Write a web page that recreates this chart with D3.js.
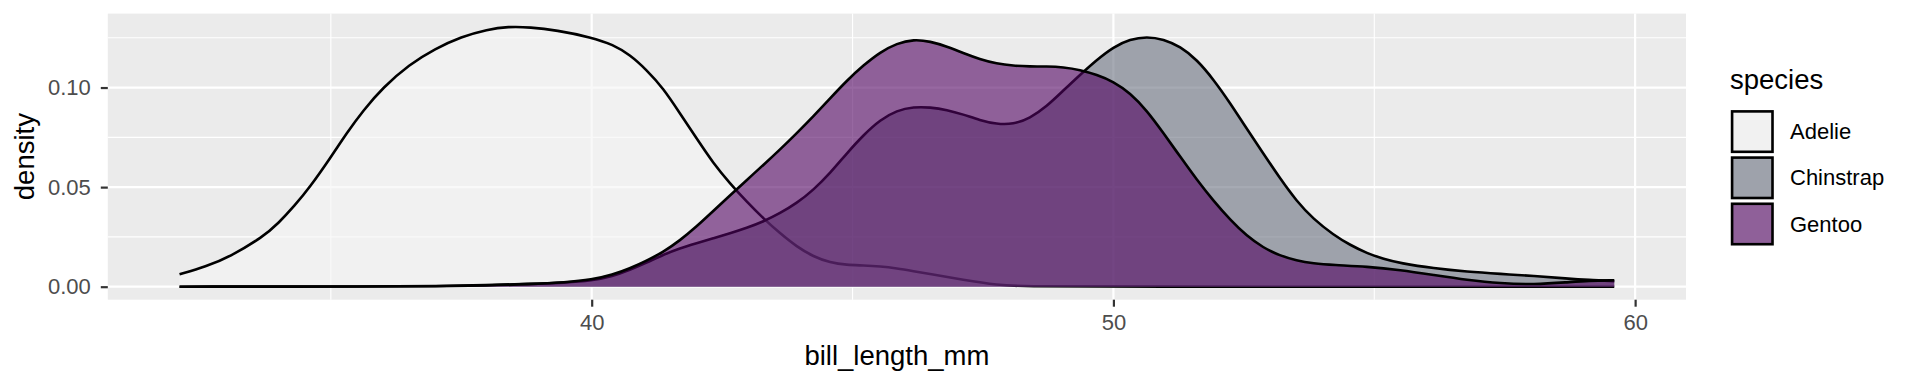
<!DOCTYPE html>
<html>
<head>
<meta charset="utf-8">
<script src="https://cdn.jsdelivr.net/npm/d3@7"></script>
<style>
  html, body { margin: 0; padding: 0; background: #fff; }
  svg { display: block; font-family: "Liberation Sans", Arial, sans-serif; }
</style>
</head>
<body>
<svg width="1920" height="384"></svg>
<script>
// species shown in the legend, in drawing order
const species = ["Adelie", "Chinstrap", "Gentoo"];

// density curves: [bill_length_mm, density]
const adelieDensity = [
  [32.1, .0062], [32.6, .0100], [33.07, .0151], [33.7, .0250], [34.0, .0320], [34.3, .0405],
  [34.6, .0500], [35.0, .0650], [35.3, .0770], [35.62, .0885], [36.0, .1000], [36.5, .1115],
  [37.0, .1195], [37.5, .1255], [38.0, .1292], [38.4, .1306], [38.82, .1303], [39.32, .1288],
  [40.0, .1252], [40.41, .1215], [40.73, .1165], [41.05, .1089], [41.37, .0997], [41.69, .0871],
  [42.01, .0745], [42.33, .0620], [42.65, .0519], [42.97, .0427], [43.29, .0343], [43.61, .0268],
  [43.93, .0201], [44.25, .0151], [44.57, .0121], [44.89, .0109], [45.21, .0107], [45.53, .0102],
  [45.85, .0092], [46.17, .0078], [46.49, .0064], [47.12, .0034], [47.76, .0008], [48.4, .0001],
  [49.5, 0], [59.6, 0]
];
const chinstrapDensity = [
  [32.1, 0], [36.0, .0001], [37.0, .0003], [38.0, .0008], [38.8, .0014], [39.5, .0020],
  [40.0, .0030], [40.4, .0052], [40.73, .0084], [41.05, .0120], [41.37, .0160], [41.69, .0193],
  [42.01, .0218], [42.33, .0243], [42.65, .0268], [42.97, .0295], [43.29, .0327], [43.61, .0369],
  [43.93, .0419], [44.25, .0486], [44.57, .0570], [44.89, .0670], [45.21, .0762], [45.53, .0838],
  [45.85, .0885], [46.17, .0903], [46.49, .0901], [46.81, .0888], [47.12, .0865], [47.44, .0836],
  [47.76, .0816], [48.08, .0815], [48.4, .0846], [48.72, .0905], [49.04, .0985], [49.36, .1064],
  [49.68, .1139], [50.0, .1204], [50.32, .1243], [50.64, .1256], [50.96, .1243], [51.28, .1206],
  [51.6, .1140], [51.92, .1040], [52.24, .0921], [52.55, .0795], [52.87, .0670], [53.19, .0545],
  [53.51, .0430], [53.83, .0340], [54.22, .0260], [54.54, .0209], [54.86, .0168], [55.18, .0139],
  [55.5, .0118], [56.14, .0092], [56.78, .0075], [57.42, .0064], [58.06, .0054], [58.7, .0041],
  [59.1, .0034], [59.6, .0028]
];
const gentooDensity = [
  [32.1, 0], [36.0, .0001], [37.0, .0002], [38.0, .0006], [38.8, .0012], [39.5, .0022],
  [40.0, .0035], [40.4, .0060], [40.73, .0092], [41.05, .0130], [41.37, .0174], [41.69, .0232],
  [42.01, .0302], [42.33, .0380], [42.65, .0458], [42.97, .0535], [43.29, .0611], [43.61, .0689],
  [43.93, .0771], [44.25, .0856], [44.57, .0946], [44.89, .1035], [45.21, .1112], [45.53, .1178],
  [45.85, .1222], [46.17, .1242], [46.49, .1232], [46.81, .1206], [47.12, .1173], [47.44, .1142],
  [47.76, .1120], [48.08, .1109], [48.4, .1106], [48.72, .1106], [49.04, .1102], [49.36, .1089],
  [49.68, .1064], [50.0, .1030], [50.32, .0972], [50.64, .0885], [50.96, .0771], [51.28, .0653],
  [51.6, .0536], [51.92, .0430], [52.24, .0335], [52.55, .0256], [52.87, .0196], [53.19, .0156],
  [53.51, .0131], [53.83, .0117], [54.22, .0109], [54.86, .0101], [55.5, .0084], [56.14, .0059],
  [56.78, .0034], [57.42, .0016], [58.06, .0011], [58.7, .0022], [59.1, .0030], [59.6, .0032]
];

const xTicks = [40, 50, 60];
const xMinor = [35, 45, 55];
const yTicks = [0, 0.05, 0.10];
const yMinor = [0.025, 0.075, 0.125];

const fills = ["#F5F5F5", "#6B7180", "#520463"];
const fillAlpha = 0.6;

const curves = [adelieDensity, chinstrapDensity, gentooDensity];

const svg = d3.select("svg");
const panel = { left: 107.8, right: 1686, top: 13.6, bottom: 299.7 };

// ggplot style 5% expansion on both axes
const xr = d3.extent(curves.flat(), d => d[0]);
const xPad = (xr[1] - xr[0]) * 0.05;
const yMax = d3.max(curves.flat(), d => d[1]);

const x = d3.scaleLinear().domain([xr[0] - xPad, xr[1] + xPad]).range([panel.left, panel.right]);
const y = d3.scaleLinear().domain([-yMax * 0.05, yMax * 1.05]).range([panel.bottom, panel.top]);

svg.append("rect").attr("width", 1920).attr("height", 384).attr("fill", "#fff");

// panel + grid
svg.append("rect")
  .attr("x", panel.left).attr("y", panel.top)
  .attr("width", panel.right - panel.left).attr("height", panel.bottom - panel.top)
  .attr("fill", "#EBEBEB");

const grid = svg.append("g").attr("stroke", "#fff");
grid.selectAll(".ymin").data(yMinor).enter().append("line")
  .attr("x1", panel.left).attr("x2", panel.right)
  .attr("y1", d => y(d)).attr("y2", d => y(d)).attr("stroke-width", 1.1);
grid.selectAll(".xmin").data(xMinor).enter().append("line")
  .attr("y1", panel.top).attr("y2", panel.bottom)
  .attr("x1", d => x(d)).attr("x2", d => x(d)).attr("stroke-width", 1.1);
grid.selectAll(".ymaj").data(yTicks).enter().append("line")
  .attr("x1", panel.left).attr("x2", panel.right)
  .attr("y1", d => y(d)).attr("y2", d => y(d)).attr("stroke-width", 2.2);
grid.selectAll(".xmaj").data(xTicks).enter().append("line")
  .attr("y1", panel.top).attr("y2", panel.bottom)
  .attr("x1", d => x(d)).attr("x2", d => x(d)).attr("stroke-width", 2.2);

// densities: fill then upper outline, one species at a time
const area = d3.area().x(d => x(d[0])).y0(y(0)).y1(d => y(d[1])).curve(d3.curveBasis);
const line = d3.line().x(d => x(d[0])).y(d => y(d[1])).curve(d3.curveBasis);

curves.forEach((c, i) => {
  const g = svg.append("g");
  g.append("path").attr("d", area(c))
    .attr("fill", fills[i]).attr("fill-opacity", fillAlpha);
  g.append("path").attr("d", line(c))
    .attr("fill", "none").attr("stroke", "#000").attr("stroke-width", 2.6)
    .attr("stroke-linejoin", "round");
});

// axes
const xAxis = svg.append("g")
  .attr("transform", `translate(0,${panel.bottom})`)
  .call(d3.axisBottom(x).tickValues(xTicks).tickSize(7).tickPadding(7.5).tickFormat(d3.format("d")));
const yAxis = svg.append("g")
  .attr("transform", `translate(${panel.left},0)`)
  .call(d3.axisLeft(y).tickValues(yTicks).tickSize(7).tickPadding(10).tickFormat(d3.format(".2f")));

[xAxis, yAxis].forEach(a => {
  a.select(".domain").remove();
  a.selectAll(".tick line").attr("stroke", "#333").attr("stroke-width", 2.2);
  a.selectAll(".tick text")
    .attr("fill", "#4D4D4D")
    .style("font-size", "22px")
    .style("font-family", "'Liberation Sans', Arial, sans-serif");
});

svg.append("text")
  .attr("x", (panel.left + panel.right) / 2).attr("y", 365)
  .attr("text-anchor", "middle").style("font-size", "27.5px")
  .text("bill_length_mm");

svg.append("text")
  .attr("transform", `translate(33.5,${(panel.top + panel.bottom) / 2}) rotate(-90)`)
  .attr("text-anchor", "middle").style("font-size", "27.5px")
  .text("density");

// legend
const legend = svg.append("g").attr("transform", "translate(1730,0)");
legend.append("text").attr("x", 0).attr("y", 89.3)
  .style("font-size", "27.5px").text("species");

const keys = legend.selectAll(".key").data(species).enter().append("g")
  .attr("transform", (d, i) => `translate(0.7,${110 + i * 46.2})`);
keys.append("rect").attr("width", 43.2).attr("height", 43.2).attr("fill", "#EBEBEB");
keys.append("rect")
  .attr("x", 1.4).attr("y", 1.4).attr("width", 40.4).attr("height", 40.4)
  .attr("fill", (d, i) => fills[i]).attr("fill-opacity", fillAlpha)
  .attr("stroke", "#000").attr("stroke-width", 2.6);
keys.append("text")
  .attr("x", 59.3).attr("y", 21.6).attr("dy", "0.35em")
  .style("font-size", "22px").text(d => d);
</script>
</body>
</html>
